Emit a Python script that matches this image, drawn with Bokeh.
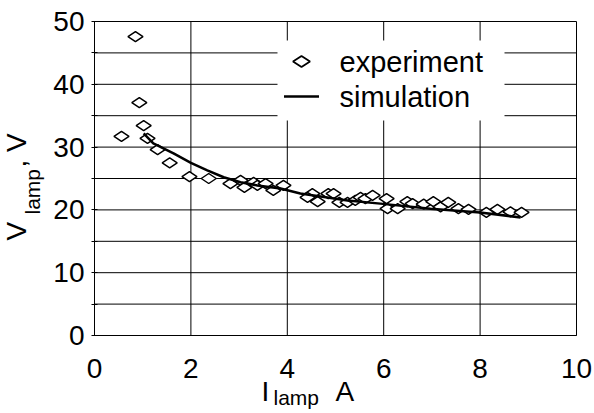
import numpy as np
from bokeh.plotting import figure
from bokeh.models import Range1d, FixedTicker, Label, BoxAnnotation, PolyAnnotation
from bokeh.embed import file_html
from bokeh.resources import INLINE

# ---------------- data ----------------
exp_current = [0.85, 0.93, 1.02, 0.56, 1.10, 1.31, 1.56, 1.97, 2.37, 2.82, 3.03, 3.11,
               3.30, 3.38, 3.55, 3.71, 3.92, 4.52, 4.42, 4.63, 4.85, 4.96, 5.08, 5.25,
               5.41, 5.52, 5.62, 5.77, 6.06, 6.08, 6.29, 6.49, 6.60, 6.83, 7.03, 7.18,
               7.34, 7.55, 7.76, 8.13, 8.36, 8.63, 8.86]
exp_voltage = [47.6, 37.1, 33.4, 31.7, 31.4, 29.6, 27.5, 25.3, 25.0, 24.2, 24.7, 23.6,
               24.4, 23.9, 24.2, 23.1, 23.9, 22.6, 22.0, 21.3, 22.6, 22.6, 21.2, 21.2,
               21.5, 22.0, 21.8, 22.3, 21.8, 20.2, 20.2, 21.3, 21.0, 20.9, 21.3, 20.5,
               21.2, 20.2, 20.1, 19.6, 20.1, 19.7, 19.6]
sim_current = [1.02, 1.22, 1.64, 2.00, 2.34, 2.68, 3.03, 3.38, 3.86, 4.27, 4.55, 5.25,
               5.93, 6.97, 8.00, 8.84]
sim_voltage = [32.2, 30.6, 29.0, 27.5, 26.3, 25.2, 24.4, 23.9, 23.4, 22.6, 22.3, 21.5,
               21.0, 20.2, 19.6, 18.8]

x_ticks = [0, 2, 4, 6, 8, 10]
y_ticks = [0, 10, 20, 30, 40, 50]
y_minor = [5, 15, 25, 35, 45]
y_grid = [0, 5, 10, 15, 20, 25, 30, 35, 40, 45, 50]
legend_labels = ["experiment", "simulation"]

# ---------------- layout (pixels) ----------------
W, H = 594, 413
PLOT_L, PLOT_R, PLOT_T, PLOT_B = 94, 576, 21, 335
FONT = "Liberation Sans"
TICK_SIZE = "28px"
TITLE_SIZE = "28px"
SUB_SIZE = "21px"
LEG_SIZE = "29px"
MAIN_SHIFT, SUB_SHIFT = 11, 8   # baseline correction of Bokeh text placement

x_lo, x_hi = x_ticks[0], x_ticks[-1]
y_lo, y_hi = y_ticks[0], y_ticks[-1]
xs_per_px = (x_hi - x_lo) / (PLOT_R - PLOT_L)
ys_per_px = (y_hi - y_lo) / (PLOT_B - PLOT_T)
x_range = Range1d(x_lo - PLOT_L * xs_per_px, x_hi + (W - PLOT_R) * xs_per_px)
y_range = Range1d(y_lo - (H - PLOT_B) * ys_per_px, y_hi + PLOT_T * ys_per_px)

p = figure(width=W, height=H, x_range=x_range, y_range=y_range,
           output_backend="svg", toolbar_location=None, title=None,
           min_border=0)
p.background_fill_color = "white"
p.border_fill_color = "white"
p.outline_line_color = None
p.xgrid.visible = False
p.ygrid.visible = False

# grid lines (drawn from tick arrays through the data scales)
p.segment(x0=x_ticks, y0=[y_lo] * len(x_ticks), x1=x_ticks, y1=[y_hi] * len(x_ticks),
          line_color="black", line_width=1)
p.segment(x0=[x_lo] * len(y_grid), y0=y_grid, x1=[x_hi] * len(y_grid), y1=y_grid,
          line_color="black", line_width=1)

# axes at fixed positions
p.xaxis.fixed_location = y_lo
p.yaxis.fixed_location = x_lo
p.xaxis.bounds = (x_lo, x_hi)
p.yaxis.bounds = (y_lo, y_hi)
p.xaxis.ticker = FixedTicker(ticks=x_ticks)
p.yaxis.ticker = FixedTicker(ticks=y_ticks, minor_ticks=y_minor)
for ax in (p.xaxis, p.yaxis):
    ax.axis_line_color = "black"
    ax.major_tick_line_color = "black"
    ax.minor_tick_line_color = "black"
    ax.major_label_text_font = FONT
    ax.major_label_text_font_size = TICK_SIZE
    ax.major_label_text_color = "black"
p.xaxis.major_tick_in = 0
p.xaxis.major_tick_out = 0
p.xaxis.minor_tick_in = 0
p.xaxis.minor_tick_out = 0
p.xaxis.major_label_standoff = 23
p.yaxis.major_tick_in = 3
p.yaxis.major_tick_out = 3
p.yaxis.minor_tick_in = 3
p.yaxis.minor_tick_out = 3
p.yaxis.major_label_standoff = 7

# data
p.scatter(exp_current, exp_voltage, marker="diamond", size=15, angle=np.pi / 2,
          fill_color="white", line_color="black", line_width=1.5)
p.line(sim_current, sim_voltage, line_color="black", line_width=2.5)

# text helper (screen units: x from left, y from bottom of canvas)
def lab(text, x, y, size, angle=0.0, baseline="alphabetic"):
    p.add_layout(Label(x=x, y=y, x_units="screen", y_units="screen", text=text,
                       text_font=FONT, text_font_size=size, text_color="black",
                       text_align="left", text_baseline=baseline, angle=angle))

# x axis title: I_lamp A
lab("I", 261, H - 402 + MAIN_SHIFT, TITLE_SIZE)
lab("lamp", 273, H - 405 + SUB_SHIFT, SUB_SIZE)
lab("A", 335, H - 402 + MAIN_SHIFT, TITLE_SIZE)

# y axis title: V_lamp, V
lab("V", 27 - MAIN_SHIFT, H - 240, TITLE_SIZE, np.pi / 2)
lab("lamp", 40 - SUB_SHIFT, H - 214, SUB_SIZE, np.pi / 2)
lab(", V", 27 - MAIN_SHIFT, H - 167, TITLE_SIZE, np.pi / 2)

# legend (white box without border)
LEG_L, LEG_R, LEG_T, LEG_B = 277, 504, 40, 120
p.add_layout(BoxAnnotation(left=LEG_L, right=LEG_R, bottom=H - LEG_B, top=H - LEG_T,
                           left_units="screen", right_units="screen",
                           bottom_units="screen", top_units="screen",
                           fill_color="white", fill_alpha=1.0, line_color=None))
row_y = [H - 61, H - 96]
sw_cx, sw_w = 301, 35
dw, dh = 8.5, 5.5
p.add_layout(PolyAnnotation(xs=[sw_cx - dw, sw_cx, sw_cx + dw, sw_cx],
                            ys=[row_y[0], row_y[0] + dh, row_y[0], row_y[0] - dh],
                            xs_units="screen", ys_units="screen",
                            fill_color="white", fill_alpha=1.0, line_color="black",
                            line_alpha=1.0, line_width=1.8))
p.add_layout(BoxAnnotation(left=sw_cx - sw_w / 2, right=sw_cx + sw_w / 2,
                           bottom=row_y[1] - 1.25, top=row_y[1] + 1.25,
                           left_units="screen", right_units="screen",
                           bottom_units="screen", top_units="screen",
                           fill_color="black", fill_alpha=1.0, line_color=None))
for txt, ry in zip(legend_labels, row_y):
    lab(txt, 339, ry, LEG_SIZE, baseline="middle")

open("out.html", "w").write(file_html(p, INLINE))
